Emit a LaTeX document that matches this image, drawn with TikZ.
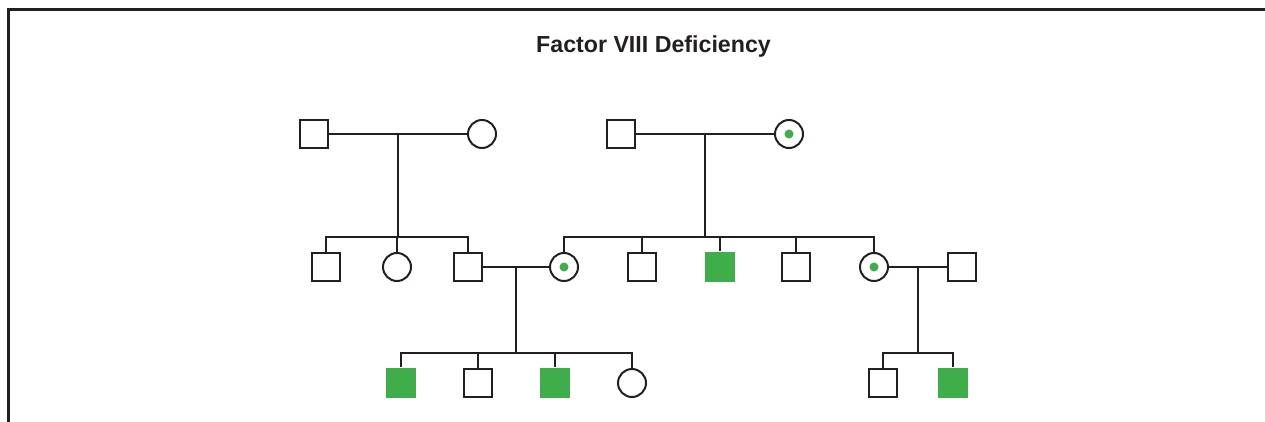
\documentclass[tikz,border=0pt]{standalone}
\usepackage{fontspec}
\setmainfont{Liberation Sans}
\usetikzlibrary{calc}
\definecolor{affgreen}{RGB}{62,173,74}
\definecolor{inkdark}{RGB}{35,31,32}

\begin{document}
\begin{tikzpicture}[
  x=1pt, y=-1pt,
  line width=2pt, inkdark,
  male/.style    ={rectangle,draw=inkdark,minimum size=28pt,inner sep=0pt},
  female/.style  ={circle,draw=inkdark,minimum size=28pt,inner sep=0pt},
  affected/.style={rectangle,fill=affgreen,minimum size=29.5pt,inner sep=0pt},
  carrier/.style ={female,path picture={\fill[affgreen]
                     (path picture bounding box.center) circle (4.5pt);}},
  link/.style    ={line width=2pt,draw=inkdark}
]
\useasboundingbox (0,0) rectangle (1265,422);
\draw[line width=2.7pt] (8.7,422) -- (8.7,9.5) -- (1265,9.5);

\node[anchor=base,font=\fontsize{23.2}{28}\selectfont\bfseries] (title) at (653.5,53) {Factor VIII Deficiency};

% generation I
\node[male]    (a1) at (314,134) {};
\node[female]  (a2) at (482,134) {};
\node[male]    (a3) at (621,134) {};
\node[carrier] (a4) at (789,134) {};

% generation II
\node[male]     (b1) at (326,267) {};
\node[female]   (b2) at (397,267) {};
\node[male]     (b3) at (468,267) {};
\node[carrier]  (b4) at (564,267) {};
\node[male]     (b5) at (642,267) {};
\node[affected] (b6) at (720,267) {};
\node[male]     (b7) at (796,267) {};
\node[carrier]  (b8) at (874,267) {};
\node[male]     (b9) at (962,267) {};

% generation III
\node[affected] (c1) at (401,383) {};
\node[male]     (c2) at (478,383) {};
\node[affected] (c3) at (555,383) {};
\node[female]   (c4) at (632,383) {};
\node[male]     (c5) at (883,383) {};
\node[affected] (c6) at (953,383) {};

% marriages and sibships
\coordinate (m1) at ($(a1)!0.5!(a2)$);
\coordinate (m2) at ($(a3)!0.5!(a4)$);
\coordinate (m3) at ($(b3)!0.5!(b4)$);
\coordinate (m4) at ($(b8)!0.5!(b9)$);
\coordinate (sb1) at (m1 |- 0,237);
\coordinate (sb2) at (m2 |- 0,237);
\coordinate (sb3) at (m3 |- 0,353);
\coordinate (sb4) at (m4 |- 0,353);

\draw[link] (a1) -- (a2);  \draw[link] (a3) -- (a4);
\draw[link] (b3) -- (b4);  \draw[link] (b8) -- (b9);
\draw[link] (m1) -- (sb1); \draw[link] (m2) -- (sb2);
\draw[link] (m3) -- (sb3); \draw[link] (m4) -- (sb4);

\draw[link] (b1.north) |- (sb1) -| (b3.north);
\draw[link] (b2.north) -- (b2.north |- sb1);
\draw[link] (b4.north) |- (sb2) -| (b8.north);
\foreach \k in {b5,b6,b7}
  \draw[link] (\k.north) -- (\k.north |- sb2);

\draw[link] (c1.north) |- (sb3) -| (c4.north);
\foreach \k in {c2,c3}
  \draw[link] (\k.north) -- (\k.north |- sb3);
\draw[link] (c5.north) |- (sb4) -| (c6.north);
\end{tikzpicture}
\end{document}
